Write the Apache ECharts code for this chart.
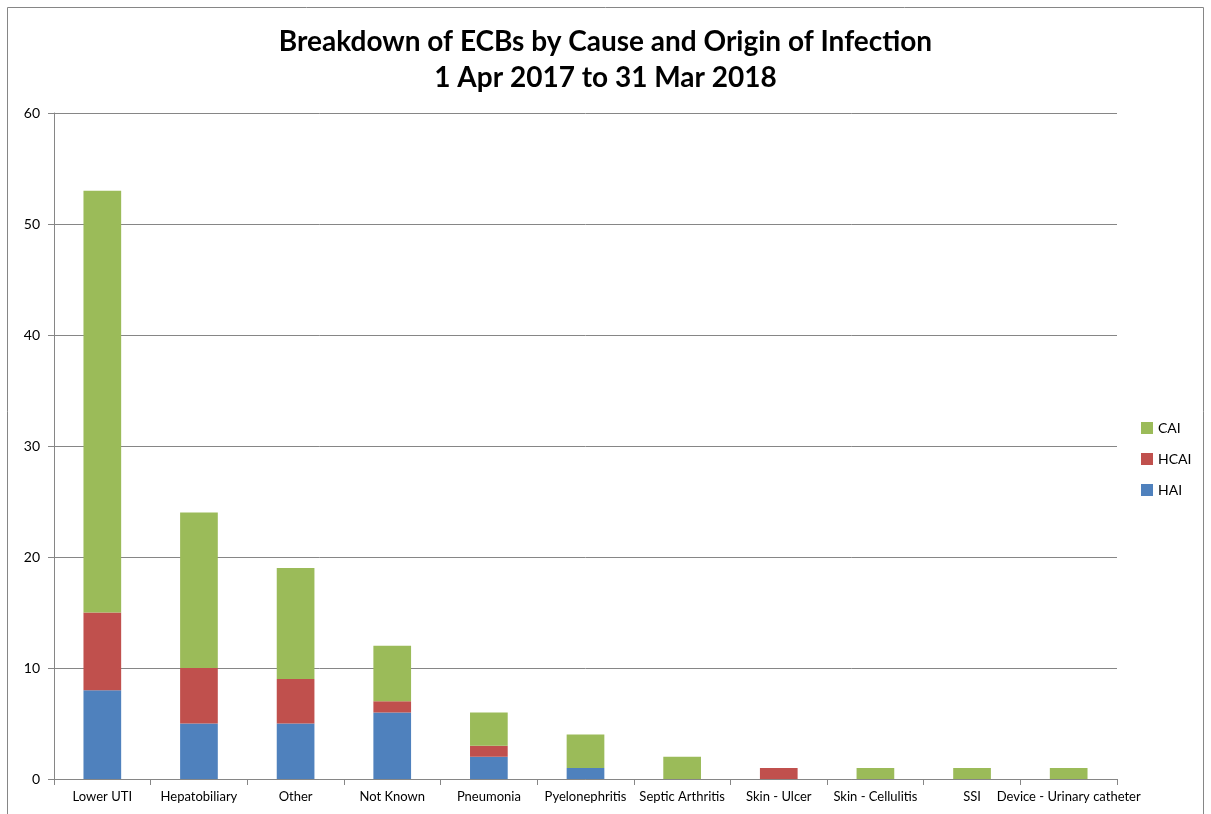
<!DOCTYPE html>
<html>
<head>
<meta charset="utf-8">
<script src="https://cdn.jsdelivr.net/npm/echarts@6/dist/echarts.min.js"></script>
<style>
html, body { margin: 0; padding: 0; background: #fff; }
#chart { width: 1211px; height: 814px; }
</style>
</head>
<body>
<div id="chart"></div>
<script>
var categories = ['Lower UTI', 'Hepatobiliary', 'Other', 'Not Known', 'Pneumonia', 'Pyelonephritis',
    'Septic Arthritis', 'Skin - Ulcer', 'Skin - Cellulitis', 'SSI', 'Device - Urinary catheter'];
var hai = [8, 5, 5, 6, 2, 1, 0, 0, 0, 0, 0];
var hcai = [7, 5, 4, 1, 1, 0, 0, 1, 0, 0, 0];
var cai = [38, 14, 10, 5, 3, 3, 2, 0, 1, 1, 1];

var chart = echarts.init(document.getElementById('chart'));
var font = 'Lato, "Open Sans", sans-serif';

function serie(name, data, color) {
    return {
        name: name,
        type: 'bar',
        stack: 'total',
        barWidth: '39%',
        data: data,
        itemStyle: { color: color },
        emphasis: { disabled: true }
    };
}

chart.setOption({
    animation: false,
    textStyle: { fontFamily: font },
    graphic: [{
        type: 'rect',
        shape: { x: 7.5, y: 7.5, width: 1196, height: 830 },
        style: { fill: 'none', stroke: '#868686', lineWidth: 1 }
    }],
    title: {
        text: 'Breakdown of ECBs by Cause and Origin of Infection\n1 Apr 2017 to 31 Mar 2018',
        left: 'center',
        top: 19,
        textStyle: { fontFamily: font, fontSize: 28, fontWeight: 'bold', color: '#000', lineHeight: 36 }
    },
    legend: {
        data: ['CAI', 'HCAI', 'HAI'],
        orient: 'vertical',
        left: 1136,
        top: 416,
        itemWidth: 12,
        itemHeight: 12,
        itemGap: 17,
        icon: 'rect',
        textStyle: { fontFamily: font, fontSize: 14, color: '#000' }
    },
    grid: { left: 54, right: 94, top: 113, bottom: 35, containLabel: false },
    xAxis: {
        type: 'category',
        data: categories,
        axisLine: { lineStyle: { color: '#868686' } },
        axisTick: { show: true, length: 6, lineStyle: { color: '#868686' } },
        axisLabel: { color: '#000', fontSize: 13, margin: 11, interval: 0, fontFamily: font }
    },
    yAxis: {
        type: 'value',
        min: 0,
        max: 60,
        interval: 10,
        axisLine: { show: true, lineStyle: { color: '#868686' } },
        axisTick: { show: true, length: 6, lineStyle: { color: '#868686' } },
        splitLine: { lineStyle: { color: '#868686' } },
        axisLabel: { color: '#000', fontSize: 14, margin: 14, fontFamily: font }
    },
    series: [
        serie('HAI', hai, '#4F81BD'),
        serie('HCAI', hcai, '#C0504D'),
        serie('CAI', cai, '#9BBB59')
    ]
});
</script>
</body>
</html>
